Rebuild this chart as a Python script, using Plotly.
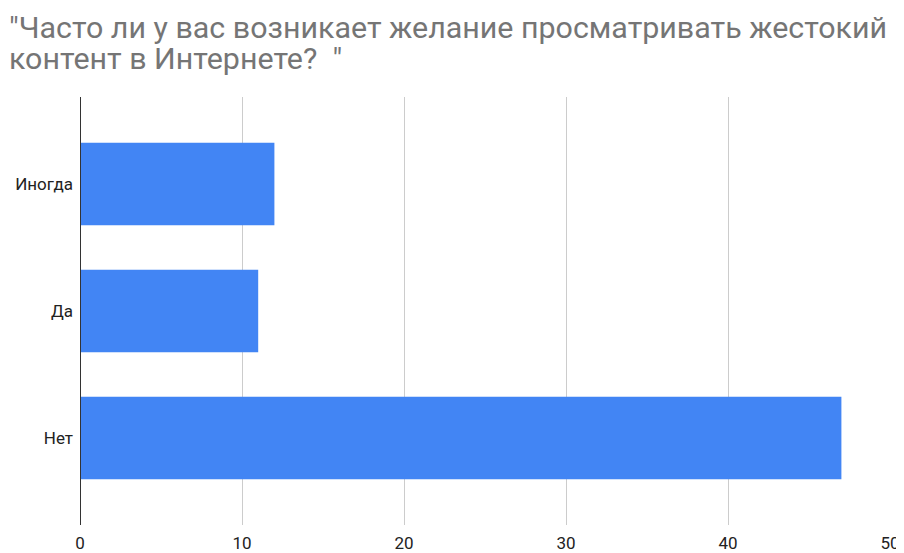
import plotly.graph_objects as go

categories = ["Иногда", "Да", "Нет"]
values = [12, 11, 47]
x_ticks = [0, 10, 20, 30, 40, 50]
title_lines = ["\"Часто ли у вас возникает желание просматривать жестокий",
               "контент в Интернете?  \""]

fig = go.Figure(go.Bar(
    y=categories, x=values, orientation="h",
    marker=dict(color="#4285f4", line=dict(width=0)),
    width=0.65,
))

# page has an 8px body offset; figure sized to fit the window
W, H = 896, 545
L, R, T, B = 72, 14, 89, 28
pw, ph = W - L - R, H - T - B

fig.update_layout(
    width=W, height=H,
    paper_bgcolor="white", plot_bgcolor="white",
    margin=dict(l=L, r=R, t=T, b=B, autoexpand=False),
    showlegend=False,
    font=dict(family="Roboto, Arial, sans-serif"),
)
for line, ytop in zip(title_lines, [1, 32]):
    fig.add_annotation(text=line, xref="paper", yref="paper",
                       x=(0 - L) / pw, y=1 + (T - ytop) / ph,
                       xanchor="left", yanchor="top", showarrow=False,
                       align="left", borderpad=0,
                       font=dict(family="Roboto, Arial, sans-serif", size=30.4, color="#757575"))
fig.update_xaxes(range=[0, 50], tickvals=x_ticks, showgrid=True, gridcolor="#cccccc",
                 gridwidth=1, zeroline=False, showline=False, ticks="", automargin=False,
                 tickfont=dict(size=17, color="#222222"), ticklabelstandoff=6)
fig.update_yaxes(categoryorder="array", categoryarray=categories[::-1],
                 range=[-0.685, 2.685], showgrid=False, zeroline=False, automargin=False,
                 showline=False, ticks="", tickfont=dict(size=17, color="#222222"),
                 ticklabelstandoff=6)
fig.add_shape(type="line", xref="x", yref="paper", x0=0, x1=0, y0=0, y1=1,
              line=dict(color="#333333", width=2))

fig.write_html("out.html")
